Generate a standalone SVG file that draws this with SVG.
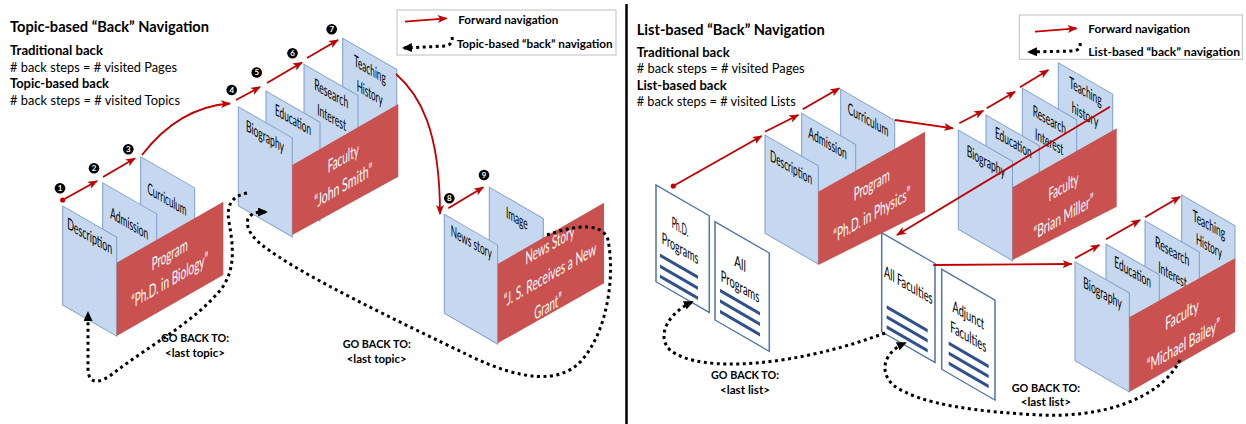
<svg xmlns="http://www.w3.org/2000/svg" width="1246" height="424" viewBox="0 0 1246 424">
<defs>
<style>
text{font-family:Lato,'Open Sans','DejaVu Sans',sans-serif}
.h{font-size:16px;font-weight:700;fill:#000}
.b{font-size:14px;font-weight:700;fill:#000}
.r{font-size:14px;fill:#000}
.lg{font-size:12px;font-weight:700;fill:#000}
.gb{font-size:12px;font-weight:700;fill:#000;text-anchor:middle}
.pb{fill:#c5d8ef;stroke:#7d9dcb;stroke-width:1}
.pr{fill:#c9514f}
.pw{fill:#fff;stroke:#4f73a8;stroke-width:1.5}
.ln{stroke:#2f5190;stroke-width:3.5}
.pl{font-size:16px;fill:#000;text-anchor:middle}
.rl{font-size:18px;fill:#fff;text-anchor:middle}
.fw{fill:none;stroke:#c00000;stroke-width:1.8;marker-end:url(#ah)}
.bk{fill:none;stroke:#000;stroke-width:3;stroke-dasharray:3 3.5;marker-end:url(#bh)}
.nt{font-size:8px;font-weight:700;fill:#fff;text-anchor:middle}
</style>
<marker id="ah" markerWidth="10" markerHeight="8" refX="9" refY="4" orient="auto" markerUnits="userSpaceOnUse"><path d="M0,0 L10,4 L0,8 L2.5,4 z" fill="#c00000"/></marker>
<marker id="bh" markerWidth="10" markerHeight="9" refX="8" refY="4.5" orient="auto-start-reverse" markerUnits="userSpaceOnUse"><path d="M0,0 L10,4.5 L0,9 z" fill="#000"/></marker>
</defs>
<rect width="1246" height="424" fill="#fff"/>

<!-- panel divider -->
<line x1="626.5" y1="4" x2="626.5" y2="424" stroke="#000" stroke-width="2.5"/>

<!-- left heading -->
<g id="left-heading">
<text class="h" x="10" y="32" textLength="199" lengthAdjust="spacingAndGlyphs">Topic-based “Back” Navigation</text>
<text class="b" x="10" y="55" textLength="93" lengthAdjust="spacingAndGlyphs">Traditional back</text>
<text class="r" x="10" y="71.5" textLength="167" lengthAdjust="spacingAndGlyphs"># back steps = # visited Pages</text>
<text class="b" x="10" y="88" textLength="99" lengthAdjust="spacingAndGlyphs">Topic-based back</text>
<text class="r" x="10" y="104.5" textLength="170" lengthAdjust="spacingAndGlyphs"># back steps = # visited Topics</text>
</g>

<!-- left legend -->
<g id="left-legend">
<rect x="397" y="10" width="219" height="45" fill="#fff" stroke="#bfbfbf" stroke-width="1"/>
<path class="fw" d="M405,21.7 L446.7,18.3"/>
<text class="lg" x="458.3" y="24.3" textLength="100" lengthAdjust="spacingAndGlyphs">Forward navigation</text>
<path d="M452,37 C453,41 451,45 446,46 L404,48" fill="none" stroke="#000" stroke-width="3" stroke-dasharray="3 3.5" marker-end="url(#bh)"/>
<text class="lg" x="456.7" y="47.5" textLength="156" lengthAdjust="spacingAndGlyphs">Topic-based “back” navigation</text>
</g>

<!-- right heading -->
<g id="right-heading">
<text class="h" x="636.7" y="35" textLength="188" lengthAdjust="spacingAndGlyphs">List-based “Back” Navigation</text>
<text class="b" x="636.7" y="56.5" textLength="93" lengthAdjust="spacingAndGlyphs">Traditional back</text>
<text class="r" x="636.7" y="73" textLength="168" lengthAdjust="spacingAndGlyphs"># back steps = # visited Pages</text>
<text class="b" x="636.7" y="89.5" textLength="90" lengthAdjust="spacingAndGlyphs">List-based back</text>
<text class="r" x="636.7" y="106" textLength="159" lengthAdjust="spacingAndGlyphs"># back steps = # visited Lists</text>
</g>

<!-- right legend -->
<g id="right-legend">
<rect x="1019.3" y="15" width="223" height="44.3" fill="#fff" stroke="#bfbfbf" stroke-width="1"/>
<path class="fw" d="M1035,31.7 L1076.7,28.3"/>
<text class="lg" x="1088.3" y="32.5" textLength="101.7" lengthAdjust="spacingAndGlyphs">Forward navigation</text>
<path d="M1080,43 C1081,47 1079,50 1074,51 L1029,52" fill="none" stroke="#000" stroke-width="3" stroke-dasharray="3 3.5" marker-end="url(#bh)"/>
<text class="lg" x="1088.3" y="56" textLength="151.7" lengthAdjust="spacingAndGlyphs">List-based  “back” navigation</text>
</g>

<!-- Topic: Program "Ph.D. in Biology" -->
<g id="topic-program-biology">
<g transform="translate(140.7,156.7) skewY(30)"><rect class="pb" width="54" height="99"/><text class="pl" x="26.3" y="33" textLength="39" lengthAdjust="spacingAndGlyphs">Curriculum</text></g>
<g transform="translate(102.7,182.7) skewY(30)"><rect class="pb" width="54" height="99"/><text class="pl" x="26.5" y="31" textLength="38" lengthAdjust="spacingAndGlyphs">Admission</text></g>
<g transform="translate(62.7,206) skewY(30)"><rect class="pb" width="54" height="99"/><text class="pl" x="27" y="20" textLength="45" lengthAdjust="spacingAndGlyphs">Description</text></g>
<polygon class="pr" points="116.7,262.7 223.3,201.7 223.3,275 116.7,336"/>
<g transform="translate(116.7,262.7) skewY(-30)"><text class="rl" x="53" y="28.5" textLength="36" lengthAdjust="spacingAndGlyphs">Program</text><text class="rl" x="53" y="54.5" textLength="77" lengthAdjust="spacingAndGlyphs">“Ph.D. in Biology”</text></g>
</g>

<!-- Topic: Faculty "John Smith" -->
<g id="topic-faculty-john-smith">
<g transform="translate(342.7,38.3) skewY(30)"><rect class="pb" width="54" height="99"/><text class="pl" x="27.2" y="21" textLength="31.7" lengthAdjust="spacingAndGlyphs">Teaching</text><text class="pl" x="27" y="44.4" textLength="26" lengthAdjust="spacingAndGlyphs">History</text></g>
<g transform="translate(304,64.3) skewY(30)"><rect class="pb" width="54" height="99"/><text class="pl" x="27.2" y="19" textLength="34" lengthAdjust="spacingAndGlyphs">Research</text><text class="pl" x="27.6" y="42.8" textLength="28.7" lengthAdjust="spacingAndGlyphs">Interest</text></g>
<g transform="translate(266,91) skewY(30)"><rect class="pb" width="54" height="99"/><text class="pl" x="27" y="18.6" textLength="36" lengthAdjust="spacingAndGlyphs">Education</text></g>
<g transform="translate(238.3,106.7) skewY(30)"><rect class="pb" width="54" height="99"/><text class="pl" x="26.7" y="19.7" textLength="38" lengthAdjust="spacingAndGlyphs">Biography</text></g>
<polygon class="pr" points="292.3,165 398.3,104 398.3,176.7 292.3,235"/>
<g transform="translate(292.3,165) skewY(-30)"><text class="rl" x="51" y="28.7" textLength="31" lengthAdjust="spacingAndGlyphs">Faculty</text><text class="rl" x="51" y="56.4" textLength="58" lengthAdjust="spacingAndGlyphs">“John Smith”</text></g>
</g>

<!-- Topic: News Story -->
<g id="topic-news-story">
<g transform="translate(489.3,187.3) skewY(30)"><rect class="pb" width="54" height="99"/><text class="pl" x="27.5" y="20.6" textLength="21.7" lengthAdjust="spacingAndGlyphs">Image</text></g>
<g transform="translate(444.3,214.3) skewY(30)"><rect class="pb" width="53.4" height="99"/><text class="pl" x="27" y="17.8" textLength="41" lengthAdjust="spacingAndGlyphs">News story</text></g>
<polygon class="pr" points="497.7,264 604,202.7 604,283.3 497.7,343.3"/>
<g transform="translate(497.7,264) skewY(-30)"><text class="rl" x="52.3" y="17" textLength="49" lengthAdjust="spacingAndGlyphs">News Story</text><text class="rl" x="52.3" y="47" textLength="92.7" lengthAdjust="spacingAndGlyphs">“J. S. Receives a New</text><text class="rl" x="50.3" y="77.5" textLength="27.3" lengthAdjust="spacingAndGlyphs">Grant”</text></g>
</g>

<!-- step numbers -->
<g id="step-numbers">
<circle cx="60" cy="188.3" r="5.3"/><text class="nt" x="60" y="191.2">1</text>
<circle cx="94" cy="168.3" r="5.3"/><text class="nt" x="94" y="171.2">2</text>
<circle cx="128.3" cy="149.3" r="5.3"/><text class="nt" x="128.3" y="152.2">3</text>
<circle cx="231.7" cy="90" r="5.3"/><text class="nt" x="231.7" y="92.9">4</text>
<circle cx="256.7" cy="72.5" r="5.3"/><text class="nt" x="256.7" y="75.4">5</text>
<circle cx="292.5" cy="53.3" r="5.3"/><text class="nt" x="292.5" y="56.2">6</text>
<circle cx="331.7" cy="29.3" r="5.3"/><text class="nt" x="331.7" y="32.2">7</text>
<circle cx="449.3" cy="198.3" r="5.3"/><text class="nt" x="449.3" y="201.2">8</text>
<circle cx="484" cy="175" r="5.3"/><text class="nt" x="484" y="177.9">9</text>
</g>

<!-- List pages -->
<g id="list-phd-programs">
<g transform="translate(656,185) skewY(30)"><rect class="pw" width="53.3" height="96.7"/><text class="pl" x="24" y="33.5" textLength="16.7" lengthAdjust="spacingAndGlyphs">Ph.D.</text><text class="pl" x="24" y="55" textLength="36.7" lengthAdjust="spacingAndGlyphs">Programs</text><path class="ln" d="M4,68 H42 M4,79 H42 M4,89 H42"/></g>
</g>
<g id="list-all-programs">
<g transform="translate(715,221.7) skewY(30)"><rect class="pw" width="54.3" height="98.3"/><text class="pl" x="25" y="33" textLength="11.7" lengthAdjust="spacingAndGlyphs">All</text><text class="pl" x="25" y="56" textLength="38.3" lengthAdjust="spacingAndGlyphs">Programs</text><path class="ln" d="M5,66 H45 M5,76.5 H45 M5,87 H45"/></g>
</g>

<!-- Topic: Program "Ph.D. in Physics" -->
<g id="topic-program-physics">
<g transform="translate(840.7,89.3) skewY(30)"><rect class="pb" width="54" height="99"/><text class="pl" x="27.3" y="20.2" textLength="40.6" lengthAdjust="spacingAndGlyphs">Curriculum</text></g>
<g transform="translate(801.7,113.3) skewY(30)"><rect class="pb" width="54" height="99"/><text class="pl" x="25.8" y="20.4" textLength="38.4" lengthAdjust="spacingAndGlyphs">Admission</text></g>
<g transform="translate(765,135) skewY(30)"><rect class="pb" width="53.3" height="98.3"/><text class="pl" x="26" y="22.9" textLength="42" lengthAdjust="spacingAndGlyphs">Description</text></g>
<polygon class="pr" points="818.3,191.7 925,131.7 925,211.7 818.3,265"/>
<g transform="translate(818.3,191.7) skewY(-30)"><text class="rl" x="53.4" y="30" textLength="36" lengthAdjust="spacingAndGlyphs">Program</text><text class="rl" x="53.4" y="60" textLength="77" lengthAdjust="spacingAndGlyphs">“Ph.D. in Physics”</text></g>
</g>

<!-- Topic: Faculty "Brian Miller" -->
<g id="topic-faculty-brian-miller">
<g transform="translate(1058.3,62.7) skewY(30)"><rect class="pb" width="54.4" height="99"/><text class="pl" x="27.2" y="18.5" textLength="32.4" lengthAdjust="spacingAndGlyphs">Teaching</text><text class="pl" x="26.7" y="42" textLength="26.6" lengthAdjust="spacingAndGlyphs">history</text></g>
<g transform="translate(1022.3,88.3) skewY(30)"><rect class="pb" width="54.4" height="99"/><text class="pl" x="27" y="21.5" textLength="33.3" lengthAdjust="spacingAndGlyphs">Research</text><text class="pl" x="26.9" y="43.5" textLength="28.3" lengthAdjust="spacingAndGlyphs">Interest</text></g>
<g transform="translate(986,115) skewY(30)"><rect class="pb" width="53.3" height="99"/><text class="pl" x="27.3" y="17.3" textLength="36.7" lengthAdjust="spacingAndGlyphs">Education</text></g>
<g transform="translate(958.3,130) skewY(30)"><rect class="pb" width="54.2" height="99.3"/><text class="pl" x="27.5" y="21" textLength="38.3" lengthAdjust="spacingAndGlyphs">Biography</text></g>
<polygon class="pr" points="1012.5,187.3 1116.7,128.3 1116.7,206.7 1012.5,260"/>
<g transform="translate(1012.5,187.3) skewY(-30)"><text class="rl" x="51" y="35" textLength="30" lengthAdjust="spacingAndGlyphs">Faculty</text><text class="rl" x="51" y="65" textLength="60" lengthAdjust="spacingAndGlyphs">“Brian Miller”</text></g>
</g>

<!-- List pages: faculties -->
<g id="list-all-faculties">
<g transform="translate(881.7,232.7) skewY(30)"><rect class="pw" width="53.3" height="99"/><text class="pl" x="26.6" y="42.5" textLength="48.7" lengthAdjust="spacingAndGlyphs">All Faculties</text><path class="ln" d="M5,71.5 H46 M5,81.5 H46 M5,91.5 H46"/></g>
</g>
<g id="list-adjunct-faculties">
<g transform="translate(941.7,269.3) skewY(30)"><rect class="pw" width="53.3" height="100"/><text class="pl" x="26.6" y="36" textLength="31.7" lengthAdjust="spacingAndGlyphs">Adjunct</text><text class="pl" x="26.6" y="57.5" textLength="36" lengthAdjust="spacingAndGlyphs">Faculties</text><path class="ln" d="M7,70 H47 M7,80 H47 M7,90 H47"/></g>
</g>

<!-- Topic: Faculty "Michael Bailey" -->
<g id="topic-faculty-michael-bailey">
<g transform="translate(1181.7,195) skewY(30)"><rect class="pb" width="53.3" height="99"/><text class="pl" x="27.2" y="19.5" textLength="32.3" lengthAdjust="spacingAndGlyphs">Teaching</text><text class="pl" x="27.2" y="40.8" textLength="25.7" lengthAdjust="spacingAndGlyphs">History</text></g>
<g transform="translate(1145,220.7) skewY(30)"><rect class="pb" width="54.3" height="99"/><text class="pl" x="27.2" y="20.3" textLength="34.3" lengthAdjust="spacingAndGlyphs">Research</text><text class="pl" x="27.5" y="44" textLength="28.4" lengthAdjust="spacingAndGlyphs">Interest</text></g>
<g transform="translate(1106,244) skewY(30)"><rect class="pb" width="53.3" height="99"/><text class="pl" x="26.7" y="18" textLength="36.7" lengthAdjust="spacingAndGlyphs">Education</text></g>
<g transform="translate(1075,261.7) skewY(30)"><rect class="pb" width="54.3" height="99"/><text class="pl" x="27.5" y="21" textLength="38.4" lengthAdjust="spacingAndGlyphs">Biography</text></g>
<polygon class="pr" points="1129.3,317.3 1235,258.3 1235,332 1129.3,392"/>
<g transform="translate(1129.3,317.3) skewY(-30)"><text class="rl" x="52.7" y="34" textLength="33.3" lengthAdjust="spacingAndGlyphs">Faculty</text><text class="rl" x="54" y="65" textLength="73.3" lengthAdjust="spacingAndGlyphs">“Michael Bailey”</text></g>
</g>

<!-- connectors -->
<g id="connectors">
<circle cx="62.7" cy="200" r="2.6" fill="#c00000"/>
<path class="fw" d="M62.7,200 L97,181"/>
<path class="fw" d="M103,177 L135,158.3"/>
<path class="fw" d="M142,155 C165,125 195,106 230,103.5"/>
<path class="fw" d="M236,100 L260,87"/>
<path class="fw" d="M267,83 L302,62.5"/>
<path class="fw" d="M307,58 L338,40"/>
<path class="fw" d="M396,74 C420,95 440,130 440,214"/>
<path class="fw" d="M448.3,208.3 L483.3,187.3"/>

<circle cx="673.3" cy="186" r="2.6" fill="#c00000"/>
<path class="fw" d="M673.3,186 L761.7,136"/>
<path class="fw" d="M765,131.7 L798.3,115"/>
<path class="fw" d="M802.7,109.3 L839.3,88.3"/>
<path class="fw" d="M895,120 L953,128.3"/>
<path class="fw" d="M959.3,123.3 L983.3,110.7"/>
<path class="fw" d="M986.7,108.3 L1015,91.7"/>
<path class="fw" d="M1020,87.3 L1048.3,70"/>
<path class="fw" d="M1110,106.7 L897,235"/>
<path class="fw" d="M933.3,265 L1071.7,264"/>
<path class="fw" d="M1075,258.3 L1099.3,245"/>
<path class="fw" d="M1106,239.3 L1140,220"/>
<path class="fw" d="M1145,217.3 L1180,196.7"/>

<!-- back navigation -->
<path class="bk" d="M247,193 C232,196 226,205 229,222 C233,245 236,268 222,288 C195,322 150,345 115,372 C100,384 89,385 88,370 L88,313"/>
<path class="bk" d="M547,235 C575,225 603,222 608,240 C615,275 608,330 582,360 C560,385 520,380 470,356 C400,322 300,275 262,245 C248,234 244,222 250,216 C254,212 260,212 266,212"/>
<path class="bk" d="M885,333 C800,365 700,375 670,350 C655,335 670,312 692,302"/>
<path class="bk" d="M1180,360 C1160,400 1100,418 1040,415 C980,412 920,405 893,385 C878,370 885,352 905,343"/>
</g>

<!-- back labels -->
<g id="back-labels">
<text class="gb" x="195" y="341.5" textLength="68" lengthAdjust="spacingAndGlyphs">GO BACK TO:</text>
<text class="gb" x="195" y="356.5" textLength="60" lengthAdjust="spacingAndGlyphs">&lt;last topic&gt;</text>
<text class="gb" x="376.7" y="347.5" textLength="68" lengthAdjust="spacingAndGlyphs">GO BACK TO:</text>
<text class="gb" x="376.7" y="362.5" textLength="60" lengthAdjust="spacingAndGlyphs">&lt;last topic&gt;</text>
<text class="gb" x="745" y="379" textLength="68" lengthAdjust="spacingAndGlyphs">GO BACK TO:</text>
<text class="gb" x="745" y="394" textLength="50" lengthAdjust="spacingAndGlyphs">&lt;last list&gt;</text>
<text class="gb" x="1045.8" y="391.5" textLength="68.3" lengthAdjust="spacingAndGlyphs">GO BACK TO:</text>
<text class="gb" x="1045.8" y="406" textLength="50.3" lengthAdjust="spacingAndGlyphs">&lt;last list&gt;</text>
</g>
</svg>
